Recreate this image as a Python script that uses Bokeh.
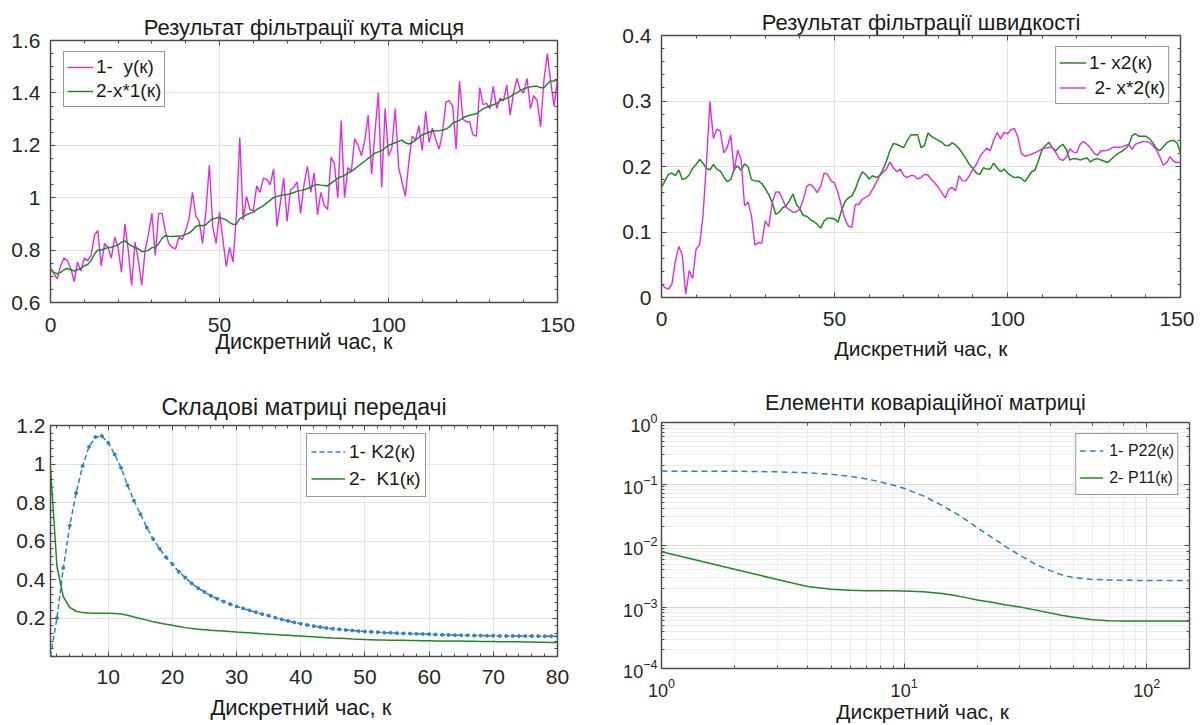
from bokeh.plotting import figure
from bokeh.models import (Range1d, LinearAxis, LogAxis, FixedTicker, SingleIntervalTicker,
                          LogTicker, CustomJSTickFormatter, Legend, LegendItem)
from bokeh.core.properties import value
from bokeh.layouts import column, row
from bokeh.embed import file_html
from bokeh.resources import INLINE

FONT = "Liberation Sans"
MAG = "#e02ce0"
GRN = "#1f8a1f"
BLU = "#2f80c4"
BOX = "#4d4d4d"
TXT = "#262626"
GRID = "#e3e3e3"

# ---------------- data ----------------
# Top-left: measured angle y(k) and filtered x*1(k), k = 0..150
y_meas = [
    0.73, 0.71, 0.69, 0.74, 0.77, 0.76, 0.73, 0.68, 0.755, 0.72,
    0.77, 0.76, 0.78, 0.855, 0.875, 0.74, 0.825, 0.81, 0.77, 0.85,
    0.81, 0.715, 0.90, 0.80, 0.665, 0.83, 0.76, 0.665, 0.80, 0.86,
    0.94, 0.78, 0.94, 0.94, 0.87, 0.825, 0.81, 0.805, 0.85, 0.84,
    0.875, 0.92, 1.02, 0.93, 0.91, 0.825, 0.95, 1.125, 0.89, 0.825,
    0.945, 0.84, 0.738, 0.81, 0.755, 0.93, 1.23, 0.915, 1.005, 0.955,
    0.95, 1.045, 1.02, 1.075, 1.07, 1.05, 1.11, 0.89, 0.98, 1.075,
    0.91, 1.03, 1.04, 1.06, 0.94, 1.05, 1.12, 1.02, 1.095, 0.935,
    1.02, 0.97, 0.955, 1.155, 1.13, 1.0, 1.295, 1.0, 1.115, 1.10,
    1.225, 1.20, 1.16, 1.22, 1.315, 1.09, 1.25, 1.40, 1.04, 1.34,
    1.16, 1.19, 1.34, 1.115, 1.06, 1.005, 1.135, 1.235, 1.22, 1.275,
    1.18, 1.33, 1.21, 1.265, 1.22, 1.185, 1.25, 1.365, 1.37, 1.35,
    1.185, 1.445, 1.30, 1.29, 1.29, 1.24, 1.235, 1.42, 1.355, 1.36,
    1.34, 1.425, 1.34, 1.38, 1.37, 1.43, 1.315, 1.40, 1.455, 1.41,
    1.40, 1.455, 1.34, 1.39, 1.37, 1.27, 1.45, 1.55, 1.44, 1.35,
    1.455,
]
x1_est = [
    0.73, 0.715, 0.71, 0.715, 0.725, 0.73, 0.725, 0.72, 0.725, 0.73,
    0.74, 0.745, 0.76, 0.785, 0.80, 0.80, 0.805, 0.81, 0.81, 0.815,
    0.82, 0.83, 0.835, 0.825, 0.815, 0.81, 0.805, 0.795, 0.795, 0.80,
    0.81, 0.81, 0.825, 0.845, 0.855, 0.853, 0.852, 0.853, 0.854, 0.855,
    0.86, 0.865, 0.875, 0.89, 0.895, 0.893, 0.897, 0.91, 0.92, 0.922,
    0.925, 0.92, 0.915, 0.905, 0.898, 0.90, 0.92, 0.927, 0.935, 0.94,
    0.945, 0.955, 0.962, 0.97, 0.98, 0.99, 1.0, 1.005, 1.008, 1.01,
    1.012, 1.015, 1.02, 1.025, 1.027, 1.03, 1.035, 1.04, 1.048, 1.05,
    1.048, 1.047, 1.045, 1.055, 1.065, 1.075, 1.08, 1.085, 1.095, 1.10,
    1.11, 1.12, 1.13, 1.14, 1.15, 1.16, 1.17, 1.175, 1.18, 1.19,
    1.20, 1.205, 1.21, 1.215, 1.22, 1.21, 1.205, 1.21, 1.22, 1.23,
    1.24, 1.245, 1.25, 1.255, 1.255, 1.256, 1.258, 1.262, 1.27, 1.285,
    1.29, 1.295, 1.305, 1.31, 1.315, 1.318, 1.32, 1.33, 1.34, 1.345,
    1.35, 1.355, 1.36, 1.37, 1.375, 1.38, 1.385, 1.395, 1.40, 1.41,
    1.415, 1.42, 1.423, 1.425, 1.425, 1.42, 1.42, 1.435, 1.445, 1.445,
    1.45,
]

# Top-right: true speed x2(k) and estimate x*2(k), k = 0..150
x2_true = [
    0.168, 0.178, 0.188, 0.19, 0.186, 0.195, 0.18, 0.182, 0.187, 0.197,
    0.203, 0.211, 0.205, 0.197, 0.195, 0.203, 0.196, 0.193, 0.184, 0.177,
    0.18, 0.196, 0.201, 0.194, 0.204, 0.2, 0.18, 0.178, 0.178, 0.174,
    0.166, 0.157, 0.145, 0.127, 0.13, 0.137, 0.14, 0.148, 0.158, 0.142,
    0.135, 0.125, 0.124, 0.119, 0.116, 0.112, 0.106, 0.117, 0.121, 0.121,
    0.12, 0.115, 0.132, 0.146, 0.152, 0.155, 0.165, 0.18, 0.192, 0.188,
    0.181, 0.186, 0.183, 0.186, 0.195, 0.208, 0.224, 0.235, 0.234, 0.231,
    0.229, 0.239, 0.248, 0.248, 0.249, 0.229, 0.232, 0.251, 0.246, 0.243,
    0.24, 0.237, 0.232, 0.232, 0.236, 0.233, 0.227, 0.22, 0.212, 0.203,
    0.197, 0.19, 0.188, 0.198, 0.196, 0.196, 0.205, 0.198, 0.192, 0.196,
    0.19, 0.186, 0.183, 0.184, 0.182, 0.177, 0.184, 0.192, 0.195, 0.21,
    0.226, 0.232, 0.237, 0.228, 0.224, 0.23, 0.234, 0.226, 0.21, 0.212,
    0.212, 0.21, 0.212, 0.213, 0.207, 0.211, 0.212, 0.21, 0.208, 0.206,
    0.211, 0.216, 0.22, 0.223, 0.227, 0.232, 0.247, 0.25, 0.246, 0.246,
    0.246, 0.243, 0.236, 0.228, 0.224, 0.23, 0.236, 0.239, 0.24, 0.236,
    0.221,
]
x2_est = [
    0.021, 0.015, 0.013, 0.02, 0.055, 0.078, 0.065, 0.005, 0.041, 0.029,
    0.074, 0.08, 0.125, 0.206, 0.299, 0.243, 0.257, 0.254, 0.221, 0.229,
    0.248, 0.193, 0.225, 0.211, 0.14, 0.146, 0.125, 0.08, 0.084, 0.083,
    0.117, 0.108, 0.145, 0.161, 0.161, 0.15, 0.138, 0.134, 0.13, 0.131,
    0.135, 0.15, 0.17, 0.173, 0.168, 0.16, 0.17, 0.19, 0.188, 0.178,
    0.175, 0.16, 0.14, 0.12, 0.109, 0.107, 0.142, 0.142, 0.15, 0.153,
    0.156, 0.165, 0.175, 0.185, 0.191, 0.196, 0.207, 0.198, 0.192, 0.196,
    0.186, 0.183, 0.186, 0.186, 0.181, 0.183, 0.188, 0.187, 0.18, 0.175,
    0.168, 0.16, 0.152, 0.165, 0.168, 0.163, 0.186, 0.178, 0.178, 0.186,
    0.196, 0.203, 0.215, 0.222, 0.228, 0.224, 0.24, 0.252, 0.242, 0.252,
    0.25, 0.256, 0.258, 0.245, 0.22, 0.216, 0.217, 0.219, 0.221, 0.224,
    0.227, 0.228, 0.229, 0.229, 0.221, 0.212, 0.209, 0.214, 0.227, 0.222,
    0.221, 0.234, 0.238, 0.234, 0.228, 0.22, 0.217, 0.224, 0.224, 0.225,
    0.228, 0.23, 0.229, 0.23, 0.232, 0.234, 0.226, 0.234, 0.236, 0.238,
    0.238, 0.237, 0.232, 0.226, 0.215, 0.202, 0.206, 0.215, 0.208, 0.206,
    0.206,
]

# Bottom-left: gain components, k = 1..80
K2 = [
    0.0, 0.20, 0.46, 0.68, 0.85, 0.99, 1.09, 1.14, 1.145, 1.11,
    1.05, 0.98, 0.89, 0.81, 0.74, 0.67, 0.61, 0.56, 0.515, 0.48,
    0.44, 0.41, 0.38, 0.355, 0.335, 0.315, 0.30, 0.285, 0.272, 0.26,
    0.25, 0.24, 0.23, 0.22, 0.212, 0.202, 0.193, 0.185, 0.177, 0.170,
    0.164, 0.158, 0.153, 0.148, 0.144, 0.141, 0.138, 0.135, 0.132, 0.130,
    0.128, 0.126, 0.124, 0.123, 0.121, 0.120, 0.119, 0.118, 0.117, 0.116,
    0.114, 0.113, 0.112, 0.111, 0.110, 0.110, 0.109, 0.109, 0.108, 0.108,
    0.107, 0.107, 0.107, 0.106, 0.106, 0.106, 0.106, 0.105, 0.105, 0.105,
]
K1 = [
    0.98, 0.47, 0.31, 0.255, 0.235, 0.228, 0.226, 0.225, 0.225, 0.225,
    0.224, 0.221, 0.214, 0.205, 0.197, 0.189, 0.181, 0.174, 0.168, 0.162,
    0.156, 0.150, 0.145, 0.142, 0.139, 0.136, 0.134, 0.132, 0.130, 0.127,
    0.125, 0.123, 0.121, 0.118, 0.116, 0.114, 0.112, 0.110, 0.108, 0.106,
    0.104, 0.102, 0.100, 0.098, 0.096, 0.095, 0.093, 0.091, 0.090, 0.088,
    0.087, 0.086, 0.086, 0.085, 0.084, 0.084, 0.083, 0.083, 0.082, 0.082,
    0.081, 0.081, 0.080, 0.080, 0.080, 0.079, 0.079, 0.078, 0.078, 0.078,
    0.077, 0.077, 0.076, 0.076, 0.075, 0.075, 0.074, 0.074, 0.073, 0.073,
]

# Bottom-right: covariance elements (log-log)
k_cov = [1, 2, 3, 4, 5, 6, 7, 8, 9, 10, 12, 14, 16, 18, 20, 23, 26, 30, 35, 40,
         45, 50, 60, 70, 80, 100, 120, 150]
P22 = [0.162, 0.161, 0.158, 0.152, 0.144, 0.133, 0.121, 0.108, 0.096, 0.085,
       0.064, 0.047, 0.035, 0.026, 0.0195, 0.0136, 0.0098, 0.0069, 0.0049, 0.0039,
       0.0033, 0.0030, 0.0028, 0.00275, 0.00272, 0.0027, 0.0027, 0.0027]
P11 = [0.0079, 0.0041, 0.0028, 0.00215, 0.00195, 0.00187, 0.00184, 0.00183, 0.00183, 0.00182,
       0.00177, 0.00168, 0.00155, 0.00142, 0.0013, 0.00119, 0.00109, 0.00100, 0.00089, 0.0008,
       0.00073, 0.00068, 0.00062, 0.00060, 0.00059, 0.00059, 0.00059, 0.00059]

# tick positions
tl_yticks = [0.6, 0.8, 1.0, 1.2, 1.4, 1.6]
bl_xticks = [10, 20, 30, 40, 50, 60, 70, 80]
bl_yticks = [0.2, 0.4, 0.6, 0.8, 1.0, 1.2]

k150 = list(range(len(y_meas)))
k80 = list(range(1, len(K2) + 1))

FMT = CustomJSTickFormatter(code="return String(Math.round(tick*100)/100);")


def make_fig(w, h, l, r, t, b, xr, yr, xtype="linear", ytype="linear"):
    p = figure(width=w, height=h, min_border_left=l, min_border_right=r,
               min_border_top=t, min_border_bottom=b, x_range=xr, y_range=yr,
               x_axis_type=xtype, y_axis_type=ytype,
               output_backend="svg", toolbar_location=None)
    p.outline_line_color = BOX
    p.outline_line_width = 1.5
    p.background_fill_color = "white"
    p.border_fill_color = "white"
    return p


def style_axis(ax, font_size, standoff):
    ax.axis_line_color = None
    ax.major_tick_in = 5
    ax.major_tick_out = 0
    ax.minor_tick_in = 3
    ax.minor_tick_out = 0
    ax.major_tick_line_color = BOX
    ax.minor_tick_line_color = BOX
    ax.major_label_text_font = FONT
    ax.major_label_text_font_size = font_size
    ax.major_label_text_color = TXT
    ax.major_label_standoff = standoff


def add_box_axes(p, xt, yt, log=False):
    Ax = LogAxis if log else LinearAxis
    for side, tk in (("above", xt), ("right", yt)):
        a = Ax(ticker=tk, formatter=CustomJSTickFormatter(code="return '';"))
        style_axis(a, "1px", 0)
        p.add_layout(a, side)


def set_title(p, text, size, standoff):
    p.title.text = text
    p.title.align = "center"
    p.title.text_font = FONT
    p.title.text_font_size = size
    p.title.text_font_style = "normal"
    p.title.text_color = "#1a1a1a"
    p.title.standoff = standoff


def set_xlabel(ax, text, size, standoff):
    ax.axis_label = text
    ax.axis_label_text_font = FONT
    ax.axis_label_text_font_size = size
    ax.axis_label_text_font_style = "normal"
    ax.axis_label_text_color = "#1a1a1a"
    ax.axis_label_standoff = standoff


def make_legend(items, font_size, glyph_w, item_h, standoff, padding, **loc):
    leg = Legend(items=items, **loc)
    leg.label_text_font = FONT
    leg.label_text_font_size = font_size
    leg.label_text_color = "#1a1a1a"
    leg.glyph_width = glyph_w
    leg.glyph_height = item_h
    leg.label_height = item_h
    leg.label_standoff = standoff
    leg.padding = padding
    leg.spacing = 0
    leg.border_line_color = "#333333"
    leg.border_line_width = 1
    leg.background_fill_color = "white"
    leg.background_fill_alpha = 1
    return leg


def grid_style(p):
    p.xgrid.grid_line_color = GRID
    p.ygrid.grid_line_color = GRID


# ---------------- top-left ----------------
p1 = make_fig(600, 366, 50, 43, 40, 64, Range1d(0, 150), Range1d(0.6, 1.6))
xt1 = SingleIntervalTicker(interval=50, num_minor_ticks=5)
yt1 = FixedTicker(ticks=tl_yticks, minor_ticks=[0.6 + 0.05 * i for i in range(21)])
p1.xaxis.ticker = xt1
p1.yaxis.ticker = yt1
p1.yaxis.formatter = FMT
style_axis(p1.xaxis[0], "21px", 15)
style_axis(p1.yaxis[0], "21px", 10)
set_xlabel(p1.xaxis[0], "Дискретний час, к", "21.5px", -5)
set_title(p1, "Результат фільтрації кута місця", "22px", 2)
grid_style(p1)
p1.xgrid.ticker = xt1
p1.ygrid.ticker = yt1
add_box_axes(p1, xt1, yt1)
r_y = p1.line(k150, y_meas, line_color=MAG, line_width=1.4)
r_x1 = p1.line(k150, x1_est, line_color=GRN, line_width=1.5)
p1.add_layout(make_legend([LegendItem(label=value("1-  y(к)"), renderers=[r_y]),
                           LegendItem(label=value("2-x*1(к)"), renderers=[r_x1])],
                          "19px", 26, 24, 3, 3, location=(13, 195)))

# ---------------- top-right ----------------
p2 = make_fig(594, 366, 61, 14, 35, 69, Range1d(0, 150), Range1d(0, 0.4))
xt2 = SingleIntervalTicker(interval=50, num_minor_ticks=5)
yt2 = SingleIntervalTicker(interval=0.1, num_minor_ticks=5)
p2.xaxis.ticker = xt2
p2.yaxis.ticker = yt2
p2.yaxis.formatter = FMT
style_axis(p2.xaxis[0], "21px", 14)
style_axis(p2.yaxis[0], "21px", 10)
set_xlabel(p2.xaxis[0], "Дискретний час, к", "21px", 8)
set_title(p2, "Результат фільтрації швидкості", "22px", 2)
grid_style(p2)
p2.xgrid.ticker = xt2
p2.ygrid.ticker = yt2
add_box_axes(p2, xt2, yt2)
r_x2 = p2.line(k150, x2_true, line_color=GRN, line_width=1.5)
r_x2e = p2.line(k150, x2_est, line_color=MAG, line_width=1.4)
p2.add_layout(make_legend([LegendItem(label=value("1- x2(к)"), renderers=[r_x2]),
                           LegendItem(label=value(" 2- x*2(к)"), renderers=[r_x2e])],
                          "19px", 27, 25, 3, 3, location="top_right", margin=11))

# ---------------- bottom-left ----------------
p3 = make_fig(600, 359, 50, 43, 59, 69, Range1d(1, 80), Range1d(0, 1.2))
xt3 = FixedTicker(ticks=bl_xticks, minor_ticks=list(range(2, 81, 2)))
yt3 = FixedTicker(ticks=bl_yticks, minor_ticks=[0.04 * i for i in range(31)])
p3.xaxis.ticker = xt3
p3.yaxis.ticker = yt3
p3.yaxis.formatter = FMT
style_axis(p3.xaxis[0], "21px", 13)
style_axis(p3.yaxis[0], "21px", 5)
set_xlabel(p3.xaxis[0], "Дискретний час,  к", "22px", 8)
set_title(p3, "Складові матриці передачі", "23px", 11)
grid_style(p3)
p3.xgrid.ticker = xt3
p3.ygrid.ticker = yt3
add_box_axes(p3, xt3, yt3)
r_k2 = p3.line(k80, K2, line_color=BLU, line_width=1.5, line_dash="5 3")
r_k2m = p3.scatter(k80, K2, marker="circle", size=3, line_color=BLU, fill_color=BLU)
r_k1 = p3.line(k80, K1, line_color=GRN, line_width=1.5)
p3.add_layout(make_legend([LegendItem(label=value("1- K2(к)"), renderers=[r_k2]),
                           LegendItem(label=value("2-  K1(к)"), renderers=[r_k1])],
                          "19px", 34, 27, 4, 4, location=(256, 159)))

# ---------------- bottom-right ----------------
p4 = make_fig(603, 359, 61, 14, 56, 56, Range1d(1, 150), Range1d(1e-4, 1), "log", "log")
style_axis(p4.xaxis[0], "18px", 9)
style_axis(p4.yaxis[0], "18px", 4)
set_xlabel(p4.xaxis[0], "Дискретний час,  к", "21px", 0)
set_title(p4, "Елементи коваріаційної матриці", "21.5px", 16)
grid_style(p4)
p4.xgrid.grid_line_color = "#d9d9d9"
p4.ygrid.grid_line_color = "#d9d9d9"
p4.xgrid.minor_grid_line_color = "#ededed"
p4.ygrid.minor_grid_line_color = "#ededed"
add_box_axes(p4, LogTicker(), LogTicker(), log=True)
r_p22 = p4.line(k_cov, P22, line_color=BLU, line_width=1.5, line_dash="6 4")
r_p11 = p4.line(k_cov, P11, line_color=GRN, line_width=1.5)
p4.add_layout(make_legend([LegendItem(label=value("1- P22(к)"), renderers=[r_p22]),
                           LegendItem(label=value("2- P11(к)"), renderers=[r_p11])],
                          "16px", 24, 27, 6, 3, location="top_right", margin=11))

layout = row(column(p1, p3), column(p2, p4))
open("out.html", "w").write(file_html(layout, INLINE))
